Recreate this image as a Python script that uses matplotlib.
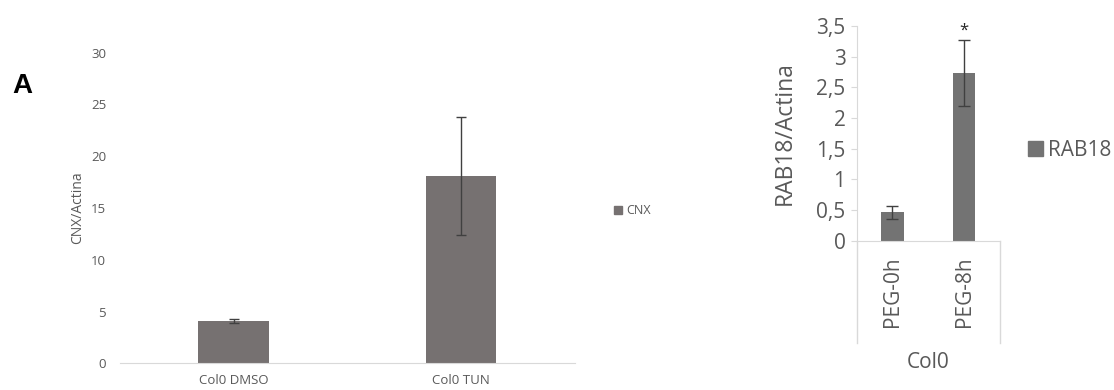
import matplotlib
matplotlib.use("Agg")
import matplotlib.pyplot as plt
from matplotlib.patches import Patch
from matplotlib.lines import Line2D

## Data
cnx_labels = ["Col0 DMSO", "Col0 TUN"]
cnx_values = [4.05, 18.1]
cnx_err = [0.2, 5.7]

rab_labels = ["PEG-0h", "PEG-8h"]
rab_values = [0.46, 2.73]
rab_err = [0.105, 0.54]
rab_group = "Col0"
rab_signif = ["", "*"]

plt.rcParams['font.family'] = ['Open Sans', 'DejaVu Sans']
txt = "#595959"
axis_col = "#d9d9d9"

fig = plt.figure(figsize=(11.14, 3.9), dpi=100)

## Left chart (CNX)
ax1 = fig.add_axes([0.1077, 0.0685, 0.4084, 0.7964])
x = range(len(cnx_labels))
ax1.bar(x, cnx_values, width=0.31, color="#767171")
ax1.errorbar(x, cnx_values, yerr=cnx_err, fmt="none", ecolor="#404040",
             elinewidth=1, capsize=3.5, capthick=1)
ax1.set_xlim(-0.5, 1.5)
ax1.set_ylim(0, 30)
ax1.set_yticks(range(0, 31, 5))
ax1.set_xticks(list(x))
ax1.set_xticklabels(cnx_labels)
ax1.tick_params(axis="both", length=0, labelsize=9.5, labelcolor=txt)
ax1.tick_params(axis="y", pad=10)
ax1.tick_params(axis="x", pad=8)
for s in ["top", "right", "left"]:
    ax1.spines[s].set_visible(False)
ax1.spines["bottom"].set_color(axis_col)
ax1.set_ylabel("CNX/Actina", fontsize=10, color=txt, labelpad=4)
ax1.legend(handles=[Patch(color="#767171", label="CNX")], loc="center left",
           bbox_to_anchor=(0.551, 0.459), bbox_transform=fig.transFigure,
           frameon=False, fontsize=9, labelcolor=txt, handlelength=0.65,
           handleheight=0.65, handletextpad=0.35, borderaxespad=0, borderpad=0)

fig.text(0.011, 0.78, "A", fontsize=20, fontweight="bold", family="Liberation Sans",
         va="center", ha="left")

## Right chart (RAB18)
ax2 = fig.add_axes([0.769, 0.3828, 0.1286, 0.5505])
x2 = range(len(rab_labels))
ax2.bar(x2, rab_values, width=0.31, color="#737373")
ax2.errorbar(x2, rab_values, yerr=rab_err, fmt="none", ecolor="#404040",
             elinewidth=1, capsize=4.5, capthick=1)
for i, s in enumerate(rab_signif):
    if s:
        ax2.annotate(s, xy=(i, rab_values[i] + rab_err[i]), xytext=(0, 1),
                     textcoords="offset points", ha="center", va="bottom",
                     fontsize=12, color="#262626")
ax2.set_xlim(-0.5, 1.5)
ax2.set_ylim(0, 3.5)
yt = [0, 0.5, 1, 1.5, 2, 2.5, 3, 3.5]
ax2.set_yticks(yt)
ax2.set_yticklabels([("%g" % v).replace(".", ",") for v in yt])
ax2.set_xticks(list(x2))
ax2.set_xticklabels(rab_labels, rotation=90)
ax2.tick_params(axis="y", length=4, color=axis_col, labelsize=15, labelcolor=txt, pad=4)
ax2.tick_params(axis="x", length=0, labelsize=15, labelcolor=txt, pad=11)
for s in ["top", "right"]:
    ax2.spines[s].set_visible(False)
ax2.spines["left"].set_color(axis_col)
ax2.spines["bottom"].set_color(axis_col)
ax2.set_ylabel("RAB18/Actina", fontsize=16.5, color=txt, labelpad=14)
low = -(343 - 240.7) / 214.7
for xe in [0, 1]:
    ax2.add_line(Line2D([xe, xe], [0, low], transform=ax2.transAxes,
                        color=axis_col, lw=1, clip_on=False))
ax2.text(0.5, -(362 - 240.7) / 214.7, rab_group, transform=ax2.transAxes,
         ha="center", va="center", fontsize=15, color=txt)
ax2.legend(handles=[Patch(color="#737373", label="RAB18")], loc="center left",
           bbox_to_anchor=(0.923, 0.615), bbox_transform=fig.transFigure,
           frameon=False, fontsize=15, labelcolor=txt, handlelength=0.7,
           handleheight=0.7, handletextpad=0.25, borderaxespad=0, borderpad=0)

fig.savefig("out.png", dpi=100)
